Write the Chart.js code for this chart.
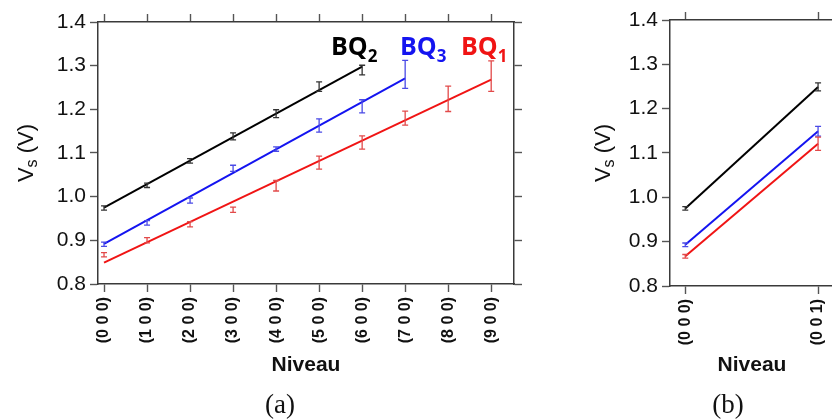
<!DOCTYPE html>
<html>
<head>
<meta charset="utf-8">
<script src="https://cdn.jsdelivr.net/npm/chart.js@4.4.0/dist/chart.umd.min.js"></script>
<style>
  body { margin: 0; width: 832px; height: 419px; overflow: hidden; background: #fff; position: relative; }
  #boxA { position: absolute; left: 0; top: 0; }
  #boxB { position: absolute; left: 560px; top: 0; }
</style>
</head>
<body>
<div id="boxA"><canvas id="chartA" width="545" height="419"></canvas></div>
<div id="boxB"><canvas id="chartB" width="300" height="419"></canvas></div>
<script>
// (a) niveaux (h 0 0)
const levelsA = ['(0 0 0)', '(1 0 0)', '(2 0 0)', '(3 0 0)', '(4 0 0)', '(5 0 0)', '(6 0 0)', '(7 0 0)', '(8 0 0)', '(9 0 0)'];
const posA = [0, 1, 2, 3, 4, 5, 6, 7, 8, 9];

const bq2Vals = [0.974, 1.026, 1.082, 1.138, 1.190, 1.252, 1.290];
const bq2Err  = [0.005, 0.005, 0.005, 0.008, 0.009, 0.011, 0.011];
const bq2Fit  = [0.975, 1.298];

const bq3Vals = [0.891, 0.940, 0.991, 1.065, 1.109, 1.163, 1.207, 1.280];
const bq3Err  = [0.005, 0.005, 0.006, 0.007, 0.005, 0.015, 0.015, 0.032];
const bq3Fit  = [0.892, 1.271];

const bq1Vals = [0.867, 0.900, 0.937, 0.970, 1.025, 1.078, 1.124, 1.180, 1.224, 1.276];
const bq1Err  = [0.005, 0.006, 0.006, 0.006, 0.012, 0.015, 0.015, 0.016, 0.029, 0.035];
const bq1Fit  = [0.849, 1.268];

// (b) niveaux (0 0 l)
const levelsB = ['(0 0 0)', '(0 0 1)'];
const posB = [0, 1];
const bq2ValsB = [0.975, 1.249];
const bq2ErrB  = [0.004, 0.009];
const bq3ValsB = [0.893, 1.149];
const bq3ErrB  = [0.004, 0.011];
const bq1ValsB = [0.867, 1.121];
const bq1ErrB  = [0.004, 0.015];

const yTicks = [0.8, 0.9, 1.0, 1.1, 1.2, 1.3, 1.4];

const BLACK = '#000000', BLUE = '#1414f0', RED = '#f01414';
const AXIS = '#3a3a3a';

const pts = (xs, ys) => ys.map((v, i) => ({ x: xs[i], y: v }));

// barres d'erreur
const errorBars = {
  id: 'errorBars',
  afterDatasetsDraw(chart) {
    const ctx = chart.ctx;
    const ys = chart.scales.y;
    chart.data.datasets.forEach((ds, i) => {
      if (!ds.errors) return;
      const meta = chart.getDatasetMeta(i);
      ctx.save();
      ctx.strokeStyle = ds.errColor;
      ctx.lineWidth = 1.3;
      meta.data.forEach((p, j) => {
        const v = ds.data[j].y, e = ds.errors[j];
        const y1 = ys.getPixelForValue(v + e), y2 = ys.getPixelForValue(v - e);
        ctx.beginPath();
        ctx.moveTo(p.x, y1); ctx.lineTo(p.x, y2);
        ctx.moveTo(p.x - 3, y1); ctx.lineTo(p.x + 3, y1);
        ctx.moveTo(p.x - 3, y2); ctx.lineTo(p.x + 3, y2);
        ctx.stroke();
      });
      ctx.restore();
    });
  }
};

function drawSub(ctx, parts, x, y, align) {
  // parts: [text, font, dy]
  let w = 0;
  parts.forEach(p => { ctx.font = p[1]; w += ctx.measureText(p[0]).width; });
  let cx = align === 'center' ? x - w / 2 : x;
  ctx.textAlign = 'left';
  parts.forEach(p => {
    ctx.font = p[1];
    ctx.fillText(p[0], cx, y + p[2]);
    cx += ctx.measureText(p[0]).width;
  });
}

// titres, légende texte, (a)/(b)
const decor = {
  id: 'decor',
  afterDraw(chart, args, o) {
    const ctx = chart.ctx;
    const a = chart.chartArea;
    ctx.save();
    ctx.fillStyle = '#111';
    ctx.textBaseline = 'alphabetic';
    // V_s (V)
    ctx.save();
    ctx.translate(o.yTitleX, (a.top + a.bottom) / 2);
    ctx.rotate(-Math.PI / 2);
    drawSub(ctx, [
      ['V', '22px "Liberation Sans"', 0],
      ['s', '16px "Liberation Sans"', 4],
      [' (V)', '22px "Liberation Sans"', 0]
    ], 0, 0, 'center');
    ctx.restore();
    // Niveau
    ctx.font = 'bold 21px "Liberation Sans"';
    ctx.textAlign = 'center';
    ctx.fillText('Niveau', o.xTitleX, o.xTitleY);
    // (a) / (b)
    ctx.font = '27px "Liberation Serif"';
    ctx.fillText(o.caption, o.captionX, o.captionY);
    // BQ labels
    (o.labels || []).forEach(l => {
      ctx.fillStyle = l.color;
      drawSub(ctx, [
        ['BQ', 'bold 25px "Open Sans"', 0],
        [l.sub, 'bold 17px "Open Sans"', 7]
      ], l.x, l.y, 'left');
    });
    ctx.restore();
  }
};

function makeScales(xMin, xMax, xPos, xLabels, box) {
  const grid = { drawOnChartArea: false, drawTicks: true, tickLength: 8, tickColor: '#555', tickWidth: 1.4 };
  const border = { display: true, color: AXIS, width: 1.5 };
  const setX = s => { s.ticks = xPos.map(v => ({ value: v })); };
  const setY = s => { s.ticks = yTicks.map(v => ({ value: v })); };
  return {
    x: {
      type: 'linear', position: 'bottom', min: xMin, max: xMax,
      afterBuildTicks: setX,
      afterFit: s => { s.height = box.bottom; },
      grid: grid, border: border,
      ticks: {
        callback: (v, i) => xLabels[i],
        minRotation: 90, maxRotation: 90, autoSkip: false, padding: 5,
        color: '#111', font: { family: 'Liberation Sans', weight: 'bold', size: 16 }
      }
    },
    x2: {
      type: 'linear', position: 'top', min: xMin, max: xMax,
      afterBuildTicks: setX,
      afterFit: s => { s.height = box.top; },
      grid: grid, border: border, ticks: { display: false }
    },
    y: {
      type: 'linear', position: 'left', min: 0.8, max: 1.4,
      afterBuildTicks: setY,
      afterFit: s => { s.width = box.left; },
      grid: grid, border: border,
      ticks: {
        callback: v => v.toFixed(1), padding: 4,
        color: '#111', font: { family: 'Liberation Sans', size: 21 }
      }
    },
    y2: {
      type: 'linear', position: 'right', min: 0.8, max: 1.4,
      afterBuildTicks: setY,
      afterFit: s => { s.width = box.right; },
      grid: grid, border: border, ticks: { display: false }
    }
  };
}

function pointSet(xs, ys, errs, color, errColor, showLine) {
  return {
    data: pts(xs, ys), errors: errs, errColor: errColor,
    showLine: showLine, borderColor: color, borderWidth: 2,
    pointRadius: 0, xAxisID: 'x', yAxisID: 'y'
  };
}
function fitSet(xEnd, fit, color) {
  return {
    data: [{ x: 0, y: fit[0] }, { x: xEnd, y: fit[1] }],
    showLine: true, borderColor: color, borderWidth: 2, pointRadius: 0
  };
}

const common = {
  responsive: false,
  animation: false,
  layout: { padding: 0 },
  plugins: { legend: { display: false }, tooltip: { enabled: false } }
};

new Chart(document.getElementById('chartA'), {
  type: 'scatter',
  data: {
    datasets: [
      fitSet(6, bq2Fit, BLACK),
      fitSet(7, bq3Fit, BLUE),
      fitSet(9, bq1Fit, RED),
      pointSet(posA, bq2Vals, bq2Err, BLACK, '#333333', false),
      pointSet(posA, bq3Vals, bq3Err, BLUE, '#4a4ae6', false),
      pointSet(posA, bq1Vals, bq1Err, RED, '#e24a4a', false)
    ]
  },
  options: Object.assign({}, common, {
    scales: makeScales(-0.14, 9.53, posA, levelsA, { left: 98, right: 31, top: 22, bottom: 135 }),
    plugins: Object.assign({}, common.plugins, {
      decor: {
        yTitleX: 33, xTitleX: 306, xTitleY: 371, caption: '(a)', captionX: 280, captionY: 413,
        labels: [
          { sub: '2', color: BLACK, x: 331, y: 55 },
          { sub: '3', color: BLUE, x: 400, y: 55 },
          { sub: '1', color: RED, x: 461, y: 55 }
        ]
      }
    })
  }),
  plugins: [errorBars, decor]
});

new Chart(document.getElementById('chartB'), {
  type: 'scatter',
  data: {
    datasets: [
      pointSet(posB, bq2ValsB, bq2ErrB, BLACK, '#333333', true),
      pointSet(posB, bq3ValsB, bq3ErrB, BLUE, '#4a4ae6', true),
      pointSet(posB, bq1ValsB, bq1ErrB, RED, '#e24a4a', true)
    ]
  },
  options: Object.assign({}, common, {
    scales: makeScales(-0.115, 1.12, posB, levelsB, { left: 110, right: 26, top: 20, bottom: 133 }),
    plugins: Object.assign({}, common.plugins, {
      decor: {
        yTitleX: 50, xTitleX: 192, xTitleY: 371, caption: '(b)', captionX: 168, captionY: 413,
        labels: []
      }
    })
  }),
  plugins: [errorBars, decor]
});
</script>
</body>
</html>
